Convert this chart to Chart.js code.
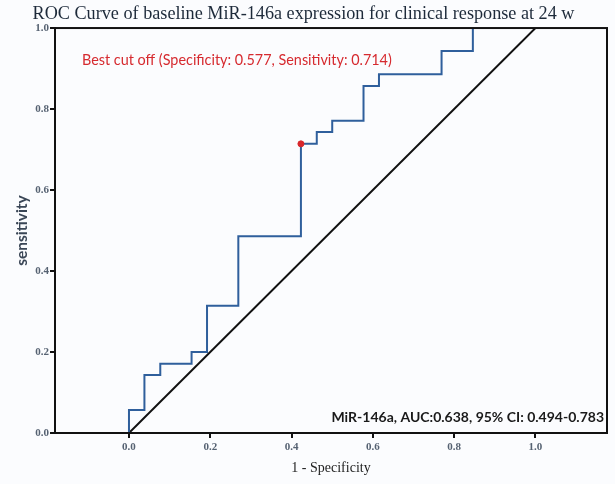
<!DOCTYPE html>
<html>
<head>
<meta charset="utf-8">
<script src="https://cdn.jsdelivr.net/npm/chart.js@4/dist/chart.umd.min.js"></script>
<style>
  html, body { margin: 0; padding: 0; background: #fbfcfe; }
  #wrap { width: 615px; height: 484px; }
</style>
</head>
<body>
<div id="wrap"><canvas id="c" width="615" height="484"></canvas></div>
<script>
// ---- Data ----
const fpr = [0, 0, 0.038, 0.077, 0.154, 0.192, 0.269, 0.423, 0.462, 0.500, 0.577, 0.615, 0.769, 0.846, 1.0];
const sensitivity = [0, 0.057, 0.143, 0.171, 0.200, 0.314, 0.486, 0.714, 0.743, 0.771, 0.857, 0.886, 0.943, 1.0, 1.0];
const refLineX = [0, 1];
const refLineY = [0, 1];
const cutoffX = [0.423];
const cutoffY = [0.714];
const xTicks = [0, 0.2, 0.4, 0.6, 0.8, 1.0];
const yTicks = [0, 0.2, 0.4, 0.6, 0.8, 1.0];
const titleText = 'ROC Curve of baseline MiR-146a expression for clinical response at 24 w';
const cutoffText = 'Best cut off (Specificity: 0.577, Sensitivity: 0.714)';
const aucText = 'MiR-146a, AUC:0.638, 95% CI: 0.494-0.783';

const toPts = (xs, ys) => xs.map((x, i) => ({ x: x, y: ys[i] }));

const bgPlugin = {
  id: 'bg',
  beforeDraw(chart) {
    const ctx = chart.ctx;
    ctx.save();
    ctx.fillStyle = '#fbfcfe';
    ctx.fillRect(0, 0, chart.width, chart.height);
    ctx.restore();
  }
};

const framePlugin = {
  id: 'frame',
  afterDraw(chart) {
    const { ctx, chartArea: a } = chart;
    ctx.save();
    ctx.strokeStyle = '#111';
    ctx.lineWidth = 2;
    ctx.strokeRect(a.left, a.top, a.right - a.left, a.bottom - a.top);
    // annotations
    ctx.fillStyle = '#d62a2f';
    ctx.font = '14.4px Lato';
    ctx.textBaseline = 'middle';
    ctx.textAlign = 'left';
    ctx.fillText(cutoffText, 82, 60);
    ctx.fillStyle = '#1a1a1a';
    ctx.font = 'bold 14px Lato';
    ctx.textAlign = 'right';
    ctx.fillText(aucText, 604, 417);
    ctx.restore();
  }
};

new Chart(document.getElementById('c'), {
  type: 'scatter',
  data: {
    datasets: [
      {
        data: toPts(refLineX, refLineY),
        showLine: true,
        borderColor: '#111',
        borderWidth: 2,
        pointRadius: 0,
        order: 3
      },
      {
        data: toPts(fpr, sensitivity),
        showLine: true,
        stepped: 'before',
        borderColor: '#2f5f9c',
        borderWidth: 2,
        pointRadius: 0,
        order: 2
      },
      {
        data: toPts(cutoffX, cutoffY),
        showLine: false,
        pointRadius: 3,
        pointBackgroundColor: '#d8262b',
        pointBorderColor: '#d8262b',
        order: 1
      }
    ]
  },
  options: {
    responsive: false,
    animation: false,
    layout: { padding: { left: 0, right: 8, top: 0, bottom: 0 } },
    plugins: {
      legend: { display: false },
      tooltip: { enabled: false },
      title: {
        display: true,
        text: titleText,
        color: '#1d2a3a',
        font: { family: 'Liberation Serif', size: 18.2, weight: 'normal', lineHeight: 1.2 },
        padding: { top: 3.5, bottom: 2.7 }
      }
    },
    scales: {
      x: {
        type: 'linear',
        min: -0.182,
        max: 1.176,
        afterBuildTicks(scale) { scale.ticks = xTicks.map(v => ({ value: v })); },
        afterFit(scale) { scale.height = 51; },
        grid: { display: true, drawOnChartArea: false, drawTicks: true, tickLength: 5, color: '#111', lineWidth: 2 },
        border: { display: true, color: '#111', width: 2 },
        ticks: {
          color: '#566272',
          font: { family: 'Liberation Serif', size: 11, weight: 'bold' },
          padding: 3,
          callback: v => Number(v).toFixed(1)
        },
        title: {
          display: true,
          text: '1 - Specificity',
          color: '#222',
          font: { family: 'Liberation Serif', size: 14 },
          padding: { top: 4, bottom: 7 }
        }
      },
      y: {
        type: 'linear',
        min: 0,
        max: 1,
        afterBuildTicks(scale) { scale.ticks = yTicks.map(v => ({ value: v })); },
        afterFit(scale) { scale.width = 55; },
        grid: { display: true, drawOnChartArea: false, drawTicks: true, tickLength: 5, color: '#111', lineWidth: 2 },
        border: { display: true, color: '#111', width: 2 },
        ticks: {
          color: '#566272',
          font: { family: 'Liberation Serif', size: 11, weight: 'bold' },
          padding: 1,
          callback: v => Number(v).toFixed(1)
        },
        title: {
          display: true,
          text: 'sensitivity',
          color: '#3a4656',
          font: { family: 'Lato', size: 15.5, weight: 'bold' },
          padding: { top: 13, bottom: 0 }
        }
      }
    }
  },
  plugins: [bgPlugin, framePlugin]
});
</script>
</body>
</html>
